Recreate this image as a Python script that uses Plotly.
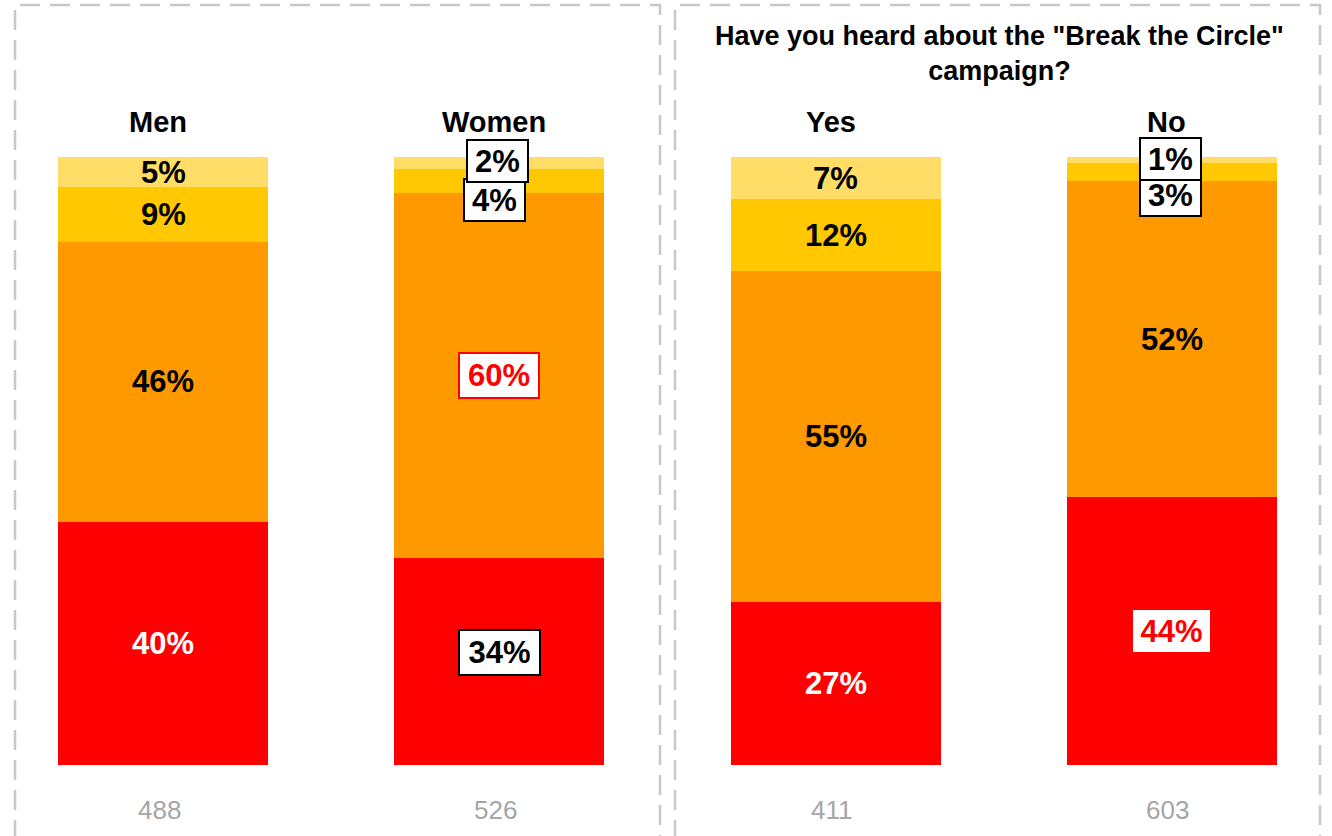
import plotly.graph_objects as go

# Groups and respondent counts
categories = ["Men", "Women", "Yes", "No"]
counts = [488, 526, 411, 603]

# Stacked shares per group (bottom to top)
share_red = [40, 34, 27, 44]
share_orange = [46, 60, 55, 52]
share_yellow = [9, 4, 12, 3]
share_light = [5, 2, 7, 1]

title_text = 'Have you heard about the "Break the Circle"<br>campaign?'

series = [
    ("Red", share_red, "#FF0000"),
    ("Orange", share_orange, "#FF9900"),
    ("Yellow", share_yellow, "#FFC800"),
    ("Light", share_light, "#FFDD66"),
]

FONT = "Liberation Sans, Arial, sans-serif"
W, H = 1332, 836
M_TOP, M_BOT = 157, 71
PLOT_H = H - M_TOP - M_BOT

fig = go.Figure()
for name, vals, col in series:
    fig.add_trace(go.Bar(
        x=categories, y=vals, name=name, marker=dict(color=col, line=dict(width=0)),
        width=0.624, hoverinfo="skip", showlegend=False,
    ))

# label styles: text colour, optional box (bg, border colour/width, size) and shifts
plain_dark = dict(color="black")
plain_light = dict(color="white")
box_black = dict(color="black", bg="white", bc="black", bw=2, w=57, h=38)
style = {
    ("Men", "Red"): plain_light, ("Men", "Orange"): plain_dark,
    ("Men", "Yellow"): plain_dark, ("Men", "Light"): plain_dark,
    ("Women", "Red"): dict(box_black, w=77, h=41, ys=9),
    ("Women", "Orange"): dict(color="red", bg="white", bc="red", bw=2, w=76, h=41),
    ("Women", "Yellow"): dict(box_black, xs=-5, ys=-19),
    ("Women", "Light"): dict(box_black, xs=-2, ys=2),
    ("Yes", "Red"): plain_light, ("Yes", "Orange"): plain_dark,
    ("Yes", "Yellow"): plain_dark, ("Yes", "Light"): plain_dark,
    ("No", "Red"): dict(color="red", bg="white", bc="white", bw=0, w=71, h=36),
    ("No", "Orange"): plain_dark,
    ("No", "Yellow"): dict(box_black, xs=-1, ys=-23),
    ("No", "Light"): dict(box_black, xs=-1, ys=1),
}

annotations = []
for ci, cat in enumerate(categories):
    total = sum(s[1][ci] for s in series)
    base = 0.0
    for name, vals, col in series:
        v = vals[ci]
        mid = (base + v / 2) / total * 100
        base += v
        st = style[(cat, name)]
        ann = dict(
            x=cat, y=mid, xref="x", yref="y", text=f"<b>{v}%</b>", showarrow=False,
            font=dict(family=FONT, size=31, color=st["color"]),
            xanchor="center", yanchor="middle",
            xshift=st.get("xs", 0), yshift=st.get("ys", 0),
        )
        if "bg" in st:
            ann.update(bgcolor=st["bg"], bordercolor=st["bc"], borderwidth=st["bw"],
                       borderpad=1 if st["bw"] else 3, width=st["w"], height=st["h"])
        annotations.append(ann)


def py(px):
    # pixel row -> paper y
    return (H - M_BOT - px) / PLOT_H


for ci, cat in enumerate(categories):
    annotations.append(dict(
        x=cat, y=py(122), xref="x", yref="paper", text=f"<b>{cat}</b>", showarrow=False,
        font=dict(family=FONT, size=29, color="black"), xshift=-5,
        xanchor="center", yanchor="middle",
    ))
    annotations.append(dict(
        x=cat, y=py(810), xref="x", yref="paper", text=str(counts[ci]), showarrow=False,
        font=dict(family=FONT, size=26, color="#A6A6A6"), xshift=-4,
        xanchor="center", yanchor="middle",
    ))

annotations.append(dict(
    x=999 / W, y=py(53), xref="paper", yref="paper", text=f"<b>{title_text}</b>",
    showarrow=False, font=dict(family=FONT, size=27, color="black"),
    xanchor="center", yanchor="middle",
))

# dashed panel frames
shapes = []
for x0, x1 in [(15, 660), (675, 1320)]:
    shapes.append(dict(
        type="path", xref="paper", yref="paper",
        path=f"M {x0 / W},{py(900)} L {x0 / W},{py(5)} L {x1 / W},{py(5)} L {x1 / W},{py(900)}",
        line=dict(color="#C8C8C8", width=2.5, dash="20px,10px"),
    ))

x0r = -163 / 336.33
fig.update_layout(
    width=W, height=H,
    barmode="stack", barnorm="percent",
    margin=dict(l=0, r=0, t=M_TOP, b=M_BOT),
    paper_bgcolor="white", plot_bgcolor="white",
    xaxis=dict(type="category", range=[x0r, x0r + W / 336.33], visible=False),
    yaxis=dict(range=[0, 100], visible=False),
    annotations=annotations, shapes=shapes,
)

fig.write_html("out.html")
